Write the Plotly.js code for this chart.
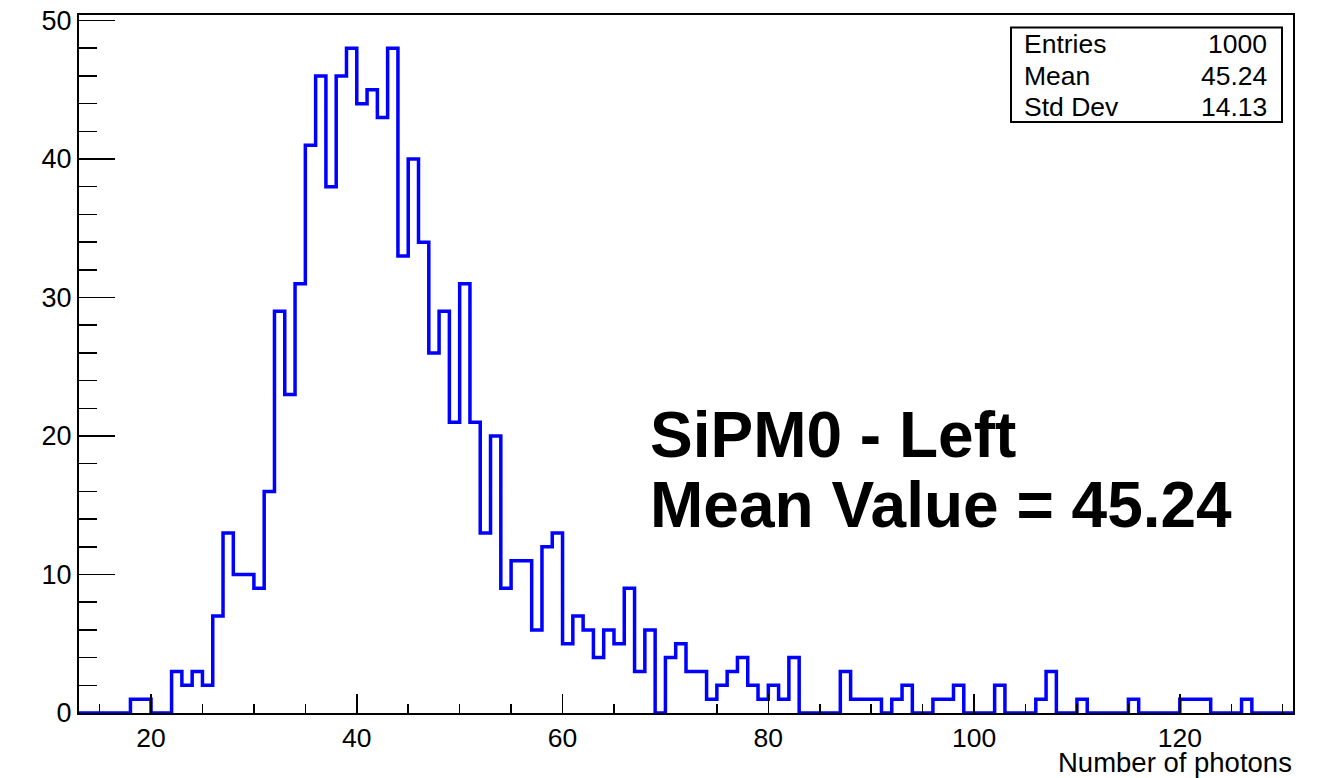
<!DOCTYPE html>
<html>
<head>
<meta charset="utf-8">
<script src="https://cdn.plot.ly/plotly-3.0.1.min.js"></script>
<style>html,body{margin:0;padding:0;background:#fff;}#plot{width:1323px;height:778px;}</style>
</head>
<body>
<div id="plot"></div>
<script>
// Histogram: 1-unit bins from 13 to 131
const binLow = 13;
const binHigh = 131;
const counts = [
  0, 0, 0, 0, 0, 1, 1, 0, 0, 3,      // 13-22
  2, 3, 2, 7, 13, 10, 10, 9, 16, 29, // 23-32
  23, 31, 41, 46, 38, 46, 48, 44, 45, 43, // 33-42
  48, 33, 40, 34, 26, 29, 21, 31, 21, 13, // 43-52
  20, 9, 11, 11, 6, 12, 13, 5, 7, 6,  // 53-62
  4, 6, 5, 9, 3, 6, 0, 4, 5, 3,       // 63-72
  3, 1, 2, 3, 4, 2, 1, 2, 1, 4,       // 73-82
  0, 0, 0, 0, 3, 1, 1, 1, 0, 1,       // 83-92
  2, 0, 0, 1, 1, 2, 0, 0, 0, 2,       // 93-102
  0, 0, 0, 1, 3, 0, 0, 1, 0, 0,       // 103-112
  0, 0, 1, 0, 0, 0, 0, 1, 1, 1,       // 113-122
  0, 0, 0, 1, 0, 0, 0, 0              // 123-130
];
const statLabels = ["Entries", "Mean", "Std Dev"];
const statValues = ["1000", "45.24", "14.13"];
const titleLines = ["SiPM0 - Left", "Mean Value = 45.24"];
const xTitle = "Number of photons";

const xs = counts.map((_, i) => binLow + i);
xs.push(binHigh);
const ys = counts.slice();
ys.push(counts[counts.length - 1]);

const W = 1323, H = 778;
const L = 79, R = 30, T = 15, B = 65;
const pw = W - L - R, ph = H - T - B;
const px = x => (x - L) / pw;
const py = y => (H - B - y) / ph;

const font = "Liberation Sans, Arial, Helvetica, sans-serif";

const trace = {
  x: xs, y: ys, type: 'scatter', mode: 'lines',
  line: {shape: 'hv', color: '#0000ff', width: 3.5},
  hoverinfo: 'skip', showlegend: false
};

const annotations = [];
statLabels.forEach((s, i) => {
  const yy = 44 + i * 31.5;
  annotations.push({xref: 'paper', yref: 'paper', x: px(1022), y: py(yy), xanchor: 'left', yanchor: 'middle',
    text: s, showarrow: false, font: {family: font, size: 26.5, color: '#000'}});
  annotations.push({xref: 'paper', yref: 'paper', x: px(1269), y: py(yy), xanchor: 'right', yanchor: 'middle',
    text: statValues[i], showarrow: false, font: {family: font, size: 26.5, color: '#000'}});
});
titleLines.forEach((s, i) => {
  annotations.push({xref: 'paper', yref: 'paper', x: px(648), y: py(435 + i * 70), xanchor: 'left', yanchor: 'middle',
    text: '<b>' + s + '</b>', showarrow: false, font: {family: font, size: 64, color: '#000'}});
});
annotations.push({xref: 'paper', yref: 'paper', x: px(1294), y: py(762), xanchor: 'right', yanchor: 'middle',
  text: xTitle, showarrow: false, font: {family: font, size: 27.5, color: '#000'}});

const layout = {
  width: W, height: H,
  margin: {l: L, r: R, t: T, b: B, pad: 0},
  paper_bgcolor: '#fff', plot_bgcolor: '#fff',
  font: {family: font, size: 26.5, color: '#000'},
  xaxis: {
    range: [binLow, binHigh], showgrid: false, zeroline: false,
    showline: true, mirror: true, linecolor: '#000', linewidth: 2,
    ticks: 'inside', ticklen: 19, tickwidth: 1.5, tickcolor: '#000',
    tick0: 0, dtick: 20,
    minor: {ticks: 'inside', ticklen: 9.5, tickwidth: 1.5, tickcolor: '#000', dtick: 5, tick0: 0, showgrid: false},
    tickfont: {family: font, size: 26.5, color: '#000'}, fixedrange: true
  },
  yaxis: {
    range: [0, 50.4], showgrid: false, zeroline: false,
    showline: true, mirror: true, linecolor: '#000', linewidth: 2,
    ticks: 'inside', ticklen: 36, tickwidth: 1.5, tickcolor: '#000',
    tick0: 0, dtick: 10,
    minor: {ticks: 'inside', ticklen: 18, tickwidth: 1.5, tickcolor: '#000', dtick: 2, tick0: 0, showgrid: false},
    tickfont: {family: font, size: 27, color: '#000'}, fixedrange: true
  },
  shapes: [{type: 'rect', xref: 'paper', yref: 'paper', x0: px(1011), x1: px(1282), y0: py(27.5), y1: py(122),
    line: {color: '#000', width: 2}, fillcolor: 'rgba(255,255,255,0)'}],
  annotations: annotations
};

Plotly.newPlot('plot', [trace], layout, {displayModeBar: false, staticPlot: true});
</script>
</body>
</html>
